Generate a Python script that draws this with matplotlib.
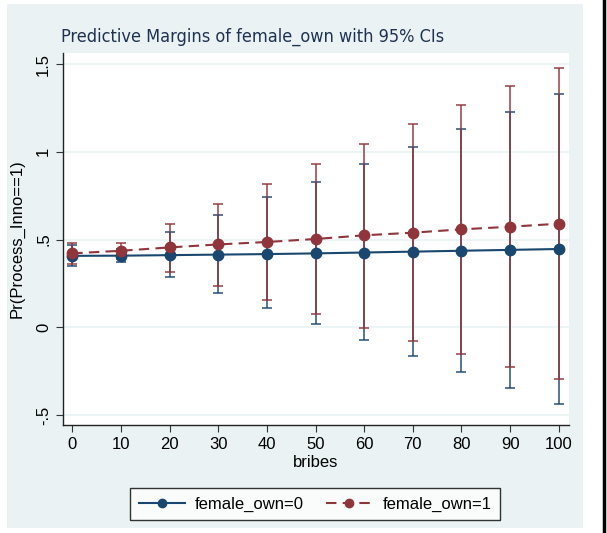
import numpy as np
import matplotlib.pyplot as plt
from matplotlib.patches import Rectangle
from matplotlib.lines import Line2D

plt.rcParams['font.family'] = ['Liberation Sans', 'DejaVu Sans']

# data
bribes = [0, 10, 20, 30, 40, 50, 60, 70, 80, 90, 100]
margin0 = [0.407, 0.408, 0.411, 0.414, 0.417, 0.421, 0.426, 0.431, 0.436, 0.441, 0.446]
lo0 = [0.347, 0.370, 0.284, 0.196, 0.107, 0.017, -0.074, -0.166, -0.255, -0.345, -0.436]
hi0 = [0.467, 0.446, 0.541, 0.640, 0.740, 0.830, 0.930, 1.029, 1.128, 1.227, 1.327]
margin1 = [0.421, 0.436, 0.455, 0.472, 0.486, 0.503, 0.524, 0.539, 0.558, 0.573, 0.590]
lo1 = [0.362, 0.390, 0.316, 0.238, 0.158, 0.076, -0.002, -0.078, -0.154, -0.227, -0.295]
hi1 = [0.478, 0.482, 0.589, 0.703, 0.817, 0.931, 1.046, 1.156, 1.269, 1.375, 1.478]

yticks = [-0.5, 0, 0.5, 1, 1.5]
ytick_labels = ['-.5', '0', '.5', '1', '1.5']

BLUE = '#1a476f'
RED = '#90353b'
BG = '#eaf2f3'

fig = plt.figure(figsize=(6.07, 5.33), dpi=100, facecolor='white')

# stata style outer panel + black frame line on the right
fig.patches.append(Rectangle((7 / 607, 5 / 533), 576 / 607, 524 / 533,
                             transform=fig.transFigure, facecolor=BG,
                             edgecolor='none', zorder=-5))
fig.lines.append(Line2D([604 / 607, 604 / 607], [0, 1], transform=fig.transFigure,
                        color='black', lw=2.5, zorder=-5))

ax = fig.add_axes([63 / 607, 108 / 533, 506 / 607, 372 / 533])
ax.set_facecolor('white')

# confidence intervals first
ax.errorbar(bribes, margin0,
            yerr=[np.subtract(margin0, lo0), np.subtract(hi0, margin0)],
            fmt='none', ecolor=BLUE, elinewidth=1.3, capsize=3.5, capthick=1.3,
            alpha=0.8, zorder=2)
ax.errorbar(bribes, margin1,
            yerr=[np.subtract(margin1, lo1), np.subtract(hi1, margin1)],
            fmt='none', ecolor=RED, elinewidth=1.3, capsize=3.5, capthick=1.3,
            alpha=0.8, zorder=2)

ax.plot(bribes, margin0, '-', color=BLUE, lw=1.5, marker='o', ms=7.5,
        label='female_own=0', zorder=3)
ax.plot(bribes, margin1, '--', color=RED, lw=1.5, marker='o', ms=7.5,
        dashes=(5, 3), label='female_own=1', zorder=3)

ax.set_xlim(-1.9, 102.1)
ax.set_ylim(-0.557, 1.563)
ax.set_xticks(bribes)
ax.set_yticks(yticks)
ax.set_yticklabels(ytick_labels, rotation=90, va='center')
ax.tick_params(labelsize=12, length=5, width=0.8, color='#333333')
ax.grid(axis='y', color=BG, lw=1.2)
ax.set_axisbelow(True)
for side in ('top', 'right'):
    ax.spines[side].set_visible(False)
for side in ('left', 'bottom'):
    ax.spines[side].set_color('#222222')
    ax.spines[side].set_linewidth(1.0)

ax.set_xlabel('bribes', fontsize=12, labelpad=2)
ax.set_ylabel('Pr(Process_Inno==1)', fontsize=12, labelpad=8)
fig.text(253 / 607, 1 - 37 / 533, 'Predictive Margins of female_own with 95% CIs',
         ha='center', va='center', fontsize=13, color='#1e3250',
         family='DejaVu Sans', stretch='condensed')

leg = fig.legend(loc='center', bbox_to_anchor=(315 / 607, 1 - 504 / 533), ncol=2,
                 fontsize=12, frameon=True, fancybox=False, edgecolor='black',
                 handlelength=2.8, handletextpad=0.6, columnspacing=1.3,
                 borderpad=0.5)
leg.get_frame().set_linewidth(1.0)
for h in leg.legend_handles:
    h.set_markersize(6)

fig.savefig('out.png', dpi=100, facecolor='white')
